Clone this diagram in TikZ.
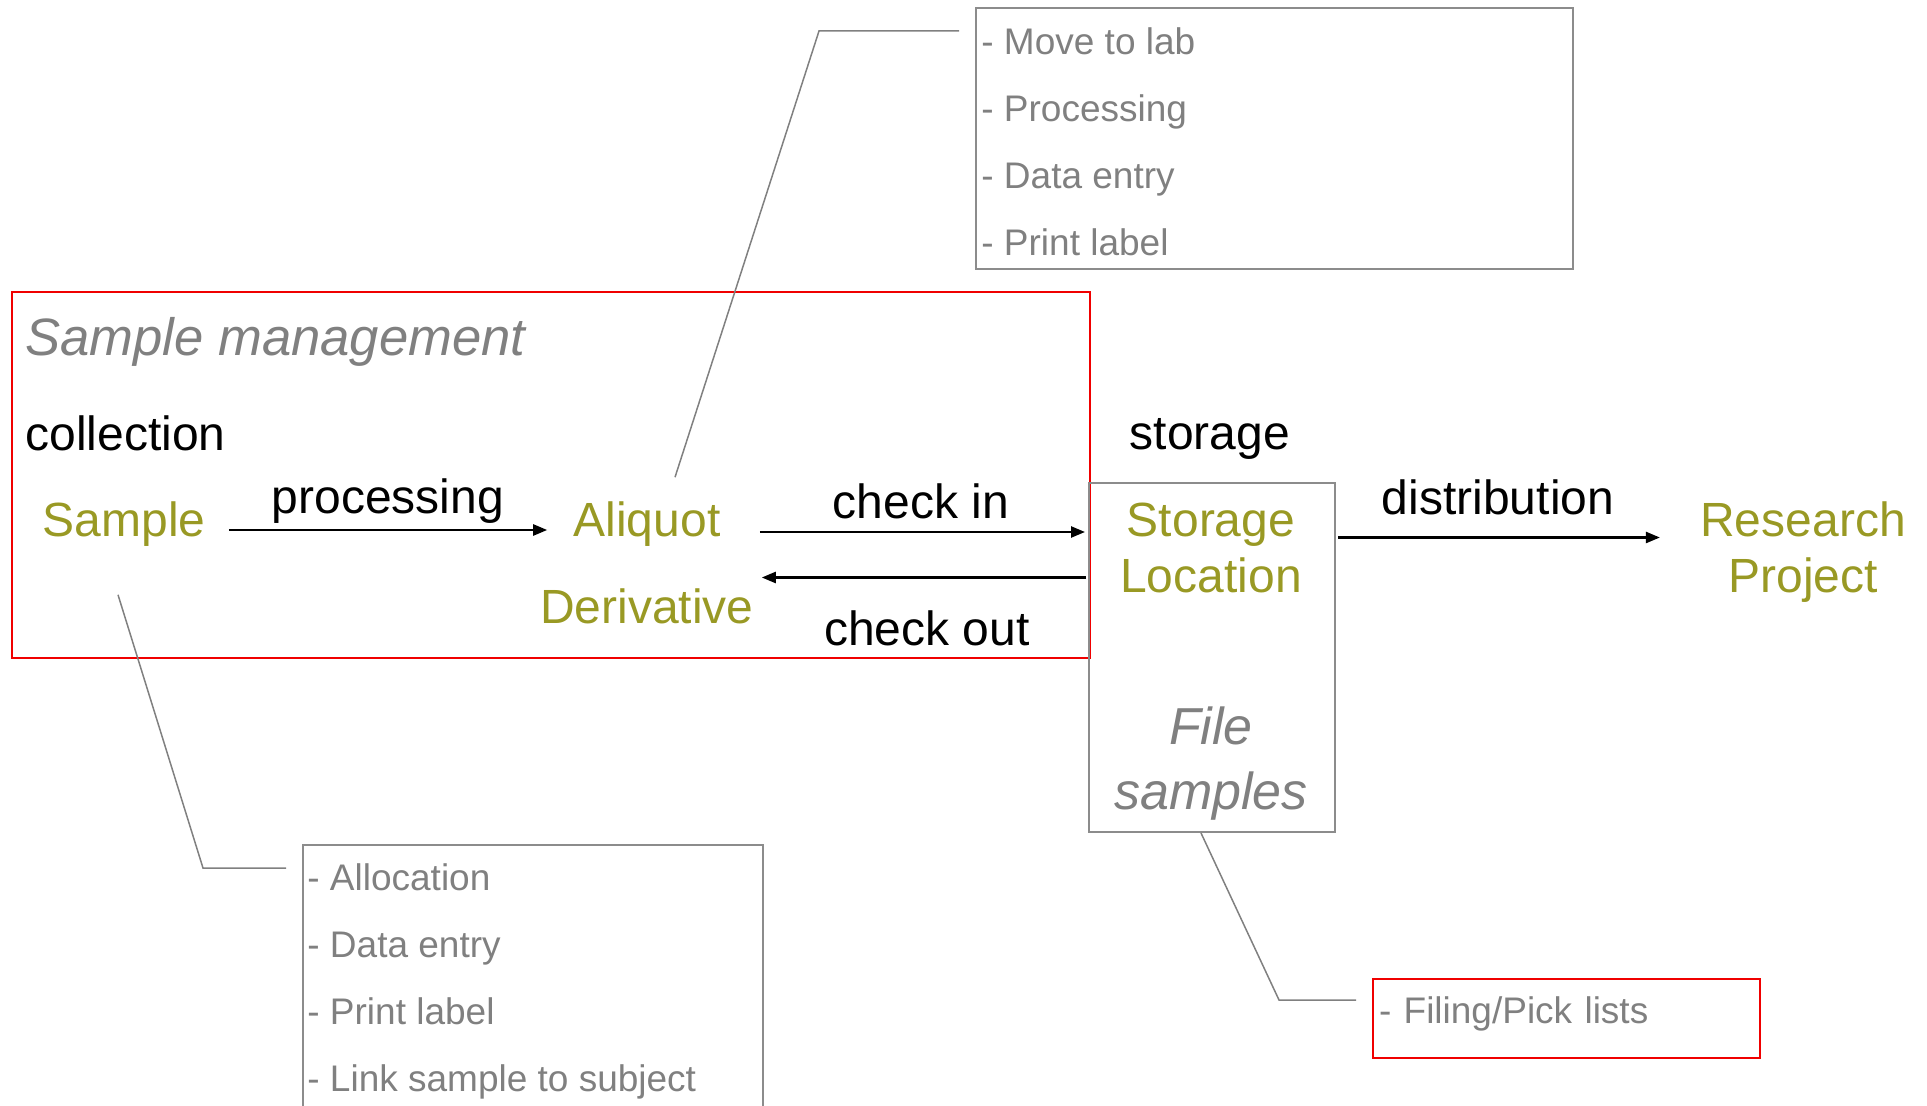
\documentclass[tikz,border=0pt]{standalone}
\usepackage{fontspec}
\setmainfont{Liberation Sans}
\usetikzlibrary{positioning, arrows.meta}
\definecolor{olivetext}{RGB}{153,153,36}
\definecolor{greytext}{RGB}{128,128,128}
\definecolor{frameline}{RGB}{140,140,140}
\definecolor{redline}{RGB}{240,0,0}
\tikzset{
stagelabel/.style={font=\fontsize{24}{28}\selectfont, inner sep=0pt},
entity/.style={stagelabel, text=olivetext, align=center},
heading/.style={font=\fontsize{26.3}{30}\selectfont\itshape, text=greytext, inner sep=0pt},
note/.style={font=\fontsize{26}{32.5}\selectfont\itshape, text=greytext, align=center, inner sep=0pt},
listtext/.style={font=\fontsize{18.5}{33.5}\selectfont, text=greytext, align=left, inner sep=0pt},
framebox/.style={draw=frameline, line width=1pt},
redframe/.style={draw=redline, line width=1pt},
flow/.style={-{Triangle[length=7pt, width=5.5pt]}, line width=1.2pt},
leader/.style={draw=greytext, line width=0.75pt}}

\begin{document}
\begin{tikzpicture}[x=0.5pt, y=-0.5pt]
\useasboundingbox (0,0) rectangle (1927,1106);
% sample management
\node[redframe, anchor=north west, minimum width=539pt, minimum height=183pt] (mgmt) at (11,291) {};
\node[heading, anchor=west] (mgmttitle) at (25,342) {Sample management};
\node[stagelabel, anchor=west] (collection) at (25,433) {collection};
\node[entity] (sample) at (124,524) {Sample};
\node[stagelabel] (processing) at (388,501) {processing};
\node[entity] (aliquot) at (647,524) {Aliquot};
\node[entity] (derivative) at (647,606) {Derivative};
\node[stagelabel] (checkin) at (921,501) {check in};
\node[stagelabel] (checkout) at (927,628) {check out};
% storage
\node[stagelabel] (storage) at (1210,439) {storage};
\node[framebox, minimum width=123pt, minimum height=174.5pt] (storebox) at (1212,657.5) {};
\node[entity] (location) at (1211,548) {Storage\\Location};
\node[note] (filesamples) at (1211,764) {File\\samples};
\node[stagelabel] (distribution) at (1498,497) {distribution};
\node[entity] (research) at (1803,552) {Research\\Project};
% task lists
\node[framebox, anchor=north west, minimum width=298.5pt, minimum height=130.5pt] (movebox) at (975,7) {};
\node[listtext, anchor=north west] (movelist) at ([xshift=3pt,yshift=-10pt]movebox.north west) {- Move to lab\\- Processing\\- Data entry\\- Print label};
\node[framebox, anchor=north west, minimum width=230pt, minimum height=133pt] (allocbox) at (302,844) {};
\node[listtext, anchor=north west] (alloclist) at ([xshift=2.5pt,yshift=-9.5pt]allocbox.north west) {- Allocation\\- Data entry\\- Print label\\- Link sample to subject};
\node[redframe, anchor=north west, minimum width=193.5pt, minimum height=39.5pt, text width=187.5pt, text depth=8pt, inner xsep=3pt, align=left, font=\fontsize{18.5}{22}\selectfont, text=greytext] (filebox) at (1372,978) {- Filing/Pick lists};

\draw[flow] ([xshift=11.5pt,yshift=-3pt]sample.east) -- ([xshift=-13pt,yshift=-3pt]aliquot.west);
\draw[flow, shorten >=1.5pt] ([xshift=19.5pt,yshift=-4pt]aliquot.east) coordinate (ci) -- (storebox.west |- ci);
\draw[flow, shorten <=1pt, shorten >=20.5pt] ([yshift=40pt]storebox.west) coordinate (co) -- (aliquot.east |- co);
\draw[flow, shorten <=1pt, shorten >=20pt] ([yshift=60pt]storebox.east) coordinate (di) -- (research.west |- di);

\draw[leader] ([xshift=14pt,yshift=12pt]aliquot.north) -- ([xshift=-78pt,yshift=-12pt]movebox.north west) -- ([xshift=-8pt,yshift=-12pt]movebox.north west);
\draw[leader] ([xshift=-3pt,yshift=-24pt]sample.south) -- ([xshift=-49.5pt,yshift=-12pt]allocbox.north west) -- ([xshift=-8pt,yshift=-12pt]allocbox.north west);
\draw[leader] ([xshift=-5.5pt]storebox.south) -- ([xshift=-46.5pt,yshift=-11pt]filebox.north west) -- ([xshift=-8pt,yshift=-11pt]filebox.north west);
\end{tikzpicture}
\end{document}
